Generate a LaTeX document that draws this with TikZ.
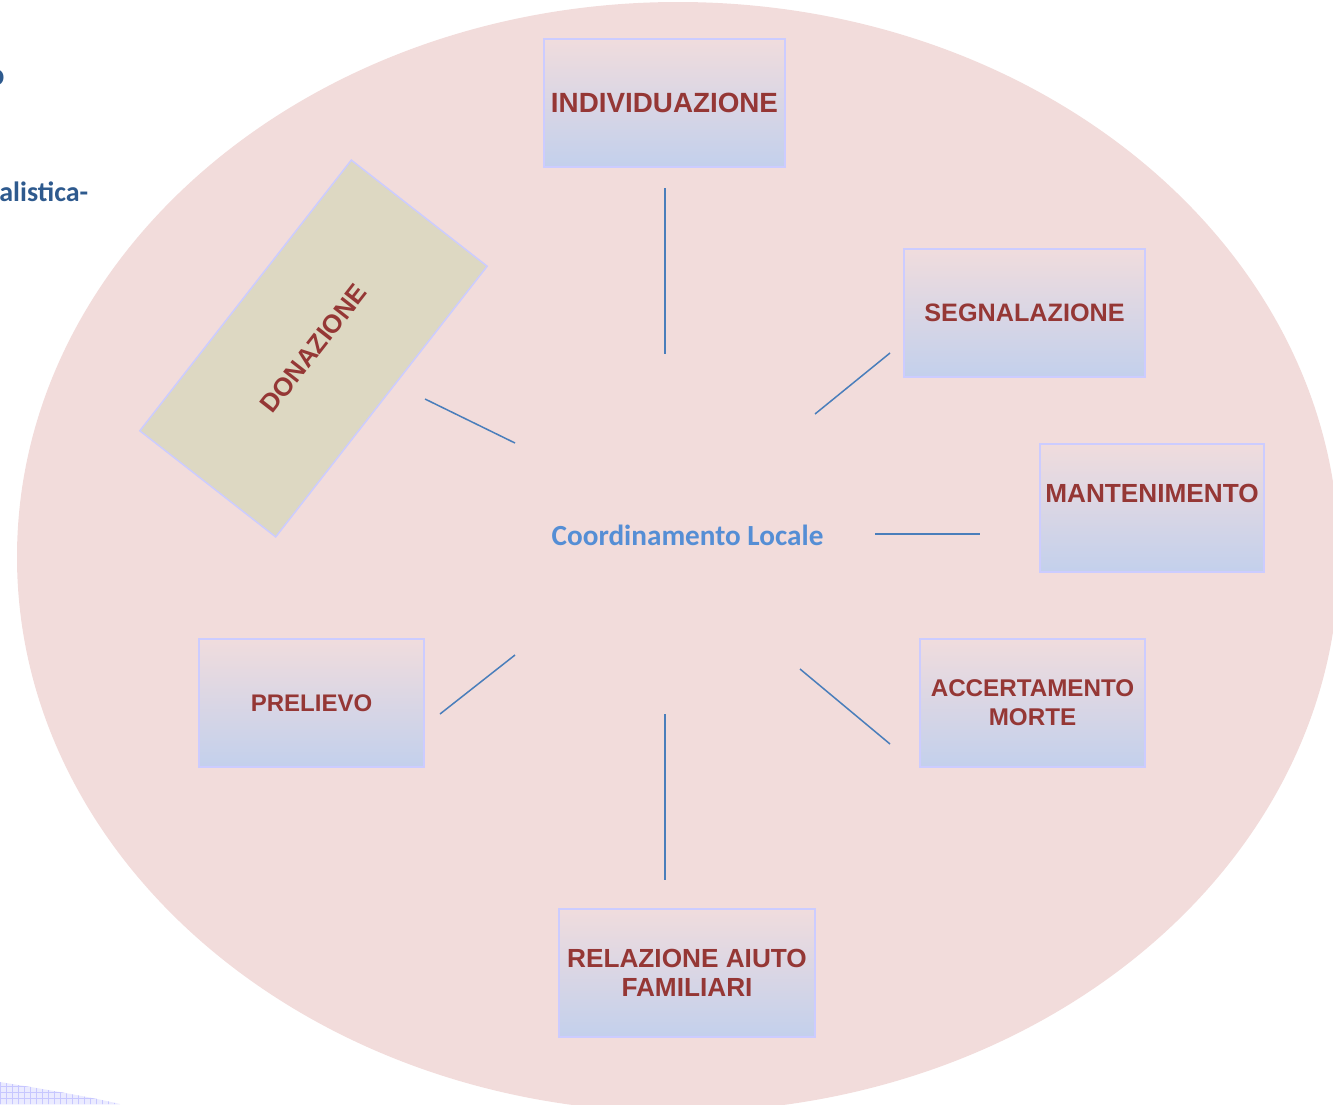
\documentclass[tikz,border=0pt]{standalone}
\usepackage{fontspec}
\setmainfont{Liberation Sans}
\newfontfamily\calibri{Carlito}
\usetikzlibrary{patterns}
\definecolor{ellfill}{HTML}{F2DCDB}
\definecolor{boxtop}{HTML}{F0DCDD}
\definecolor{boxbot}{HTML}{C3D0EC}
\definecolor{boxline}{HTML}{CCCCFF}
\definecolor{txtred}{HTML}{953735}
\definecolor{linkblue}{HTML}{4A7EBB}
\definecolor{coordblue}{HTML}{558ED5}
\definecolor{donfill}{HTML}{DDD8C2}
\definecolor{pageblue}{HTML}{2E5A8E}
\tikzset{
  stagebox/.style={draw=boxline, line width=0.75pt,
    top color=boxtop, middle color=boxtop!55!boxbot, bottom color=boxbot,
    minimum height=64pt, inner sep=0pt, align=center, text=txtred},
  stagetext/.style={text=txtred, align=center, inner sep=0pt},
  fs/.style={font=\fontsize{#1}{14.5}\selectfont\bfseries},
  link/.style={draw=linkblue, line width=0.75pt},
  pagetext/.style={text=pageblue, inner sep=0pt}
}
\begin{document}
\begin{tikzpicture}[x=0.5pt,y=-0.5pt]
\useasboundingbox (0,0) rectangle (1333,1104);
\begin{scope}
\clip (0,0) rectangle (1333,1104);
% page fragments
\node[pagetext, anchor=base, font=\calibri\bfseries\fontsize{16}{18}\selectfont] (pgo) at (-4,85) {o};
\node[pagetext, anchor=base west, font=\calibri\bfseries\fontsize{14}{16}\selectfont] (pgal) at (-1,201) {alistica-};
\fill[blue!8] (0,1082) .. controls (50,1090) and (90,1097) .. (120,1104) -- (0,1104) -- cycle;
\fill[pattern=grid, pattern color=blue!22] (0,1082) .. controls (50,1090) and (90,1097) .. (120,1104) -- (0,1104) -- cycle;
% big ellipse
\fill[ellfill] (678,557) ellipse [x radius=661, y radius=555];
\end{scope}
% boxes
\node[stagebox, fs=13.9, minimum width=120.5pt] (ind) at (664.5,103) {INDIVIDUAZIONE};
\node[stagebox, fs=12.6, minimum width=120.5pt] (seg) at (1024.5,313) {SEGNALAZIONE};
\node[stagebox, minimum width=112pt] (man) at (1152,508) {};
\node[stagetext, fs=13.1] (mantxt) at (1152,493) {MANTENIMENTO};
\node[stagebox, fs=12.1, minimum width=112.5pt] (acc) at (1032.5,703) {ACCERTAMENTO\\MORTE};
\node[stagebox, fs=13.1, minimum width=128pt] (rel) at (687,973) {RELAZIONE AIUTO\\FAMILIARI};
\node[stagebox, fs=12.0, minimum width=112.5pt] (pre) at (311.5,703) {PRELIEVO};
\node[draw=boxline, line width=0.75pt, fill=donfill, minimum width=171.75pt,
  minimum height=86.2pt, rotate=52, inner sep=0pt, text=txtred,
  fs=12.9] (don) at (313.5,348.5) {DONAZIONE};
% centre
\node[text=coordblue, inner sep=0pt, font=\calibri\bfseries\fontsize{14.6}{17}\selectfont] (coord) at (687.5,535) {Coordinamento Locale};
% connectors
\coordinate (a1) at (665,188); \coordinate (a2) at (665,354);
\coordinate (b1) at (815,414); \coordinate (b2) at (890,353);
\coordinate (c1) at (875,534); \coordinate (c2) at (980,534);
\coordinate (d1) at (800,669); \coordinate (d2) at (890,744);
\coordinate (e1) at (665,714); \coordinate (e2) at (665,880);
\coordinate (f1) at (515,655); \coordinate (f2) at (440,714);
\coordinate (g1) at (425,399); \coordinate (g2) at (515,443);
\draw[link] (a1) -- (a2);
\draw[link] (b1) -- (b2);
\draw[link] (c1) -- (c2);
\draw[link] (d1) -- (d2);
\draw[link] (e1) -- (e2);
\draw[link] (f1) -- (f2);
\draw[link] (g1) -- (g2);
\end{tikzpicture}
\end{document}
